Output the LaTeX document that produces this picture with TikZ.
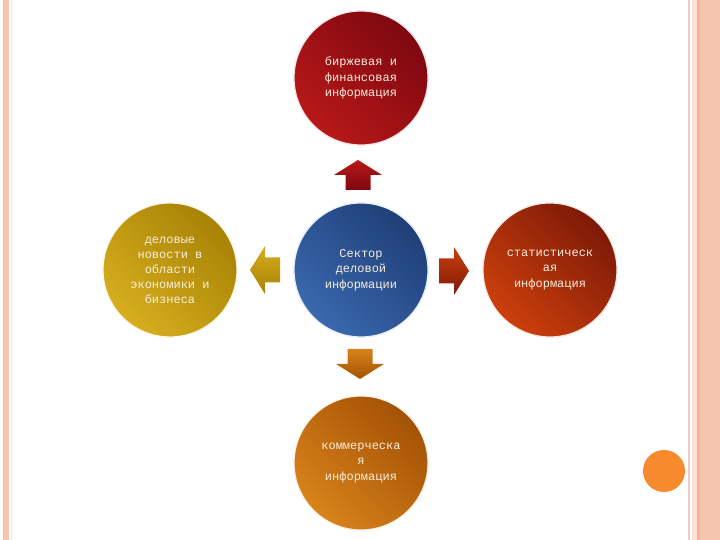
\documentclass[tikz,border=0pt]{standalone}
\usepackage{fontspec}
\setmonofont{Liberation Mono}

\definecolor{salmon}{HTML}{F6C5AE}
\definecolor{salmonlt}{HTML}{FBE2D6}
\definecolor{tan}{HTML}{E6CFC0}
\definecolor{cream}{HTML}{F8EEDC}
\definecolor{birzhdark}{HTML}{7E0810}
\definecolor{birzhlight}{HTML}{B81818}
\definecolor{sektordark}{HTML}{203F78}
\definecolor{sektorlight}{HTML}{3A68AE}
\definecolor{delodark}{HTML}{A88206}
\definecolor{delolight}{HTML}{D6AE1E}
\definecolor{statdark}{HTML}{7E1A08}
\definecolor{statlight}{HTML}{CC400C}
\definecolor{kommdark}{HTML}{A45206}
\definecolor{kommlight}{HTML}{D8821A}
\definecolor{dotorange}{HTML}{F68A2C}

% block arrow: position, angle, top colour, bottom colour
\newcommand{\blockarr}[4]{%
  \shade[top color=#3, bottom color=#4, shift={#1}, rotate=#2]
    (-15,-12.5) -- (0,-12.5) -- (0,-24) -- (15,0) -- (0,24) -- (0,12.5) -- (-15,12.5) -- cycle;}

\begin{document}
\begin{tikzpicture}[x=1pt, y=1pt,
    bubble/.style 2 args={circle, minimum size=134pt, inner sep=0pt, align=center,
      text=cream, font=\ttfamily\fontsize{12}{15.5}\selectfont,
      top color=#1, middle color=#1!75!#2, bottom color=#2, shading angle=-45,
      draw=#2!12!white, line width=1.2pt}]
  \useasboundingbox (0,0) rectangle (720,540);
  % Left border
  \fill[salmon] (3,0) rectangle (9,540);
  \draw[salmonlt, line width=0.8pt] (11.5,0) -- (11.5,540);
  \draw[green!4!white, line width=0.8pt] (14,0) -- (14,540);
  % Right border
  \fill[tan] (688,0) rectangle (690,540);
  \fill[salmonlt] (692,0) rectangle (697,540);
  \fill[salmon!90!red] (697,0) rectangle (700,540);
  \fill[salmon] (700,0) rectangle (720,540);
  \fill[dotorange] (664,69) circle (21);
  % Circles
  \node[bubble={sektordark}{sektorlight}] (sektor) at (361,270)
    {Сектор\\деловой\\информации};
  \node[bubble={birzhdark}{birzhlight}] (birzh) at (361,462)
    {биржевая и\\финансовая\\информация};
  \node[bubble={delodark}{delolight}, font=\ttfamily\fontsize{12}{15}\selectfont] (delo) at (170,270)
    {деловые\\новости в\\области\\экономики и\\бизнеса};
  \node[bubble={statdark}{statlight}] (stat) at (550,270)
    {статистическ\\ая\\информация};
  \node[bubble={kommdark}{kommlight}] (komm) at (361,77)
    {коммерческа\\я\\информация};
  % Arrows
  \blockarr{(358,365)}{90}{birzhlight}{birzhdark}
  \blockarr{(454,269)}{0}{statlight}{statdark}
  \blockarr{(265,270)}{180}{delolight}{delodark}
  \blockarr{(360,176)}{-90}{kommlight}{kommdark}
\end{tikzpicture}
\end{document}
